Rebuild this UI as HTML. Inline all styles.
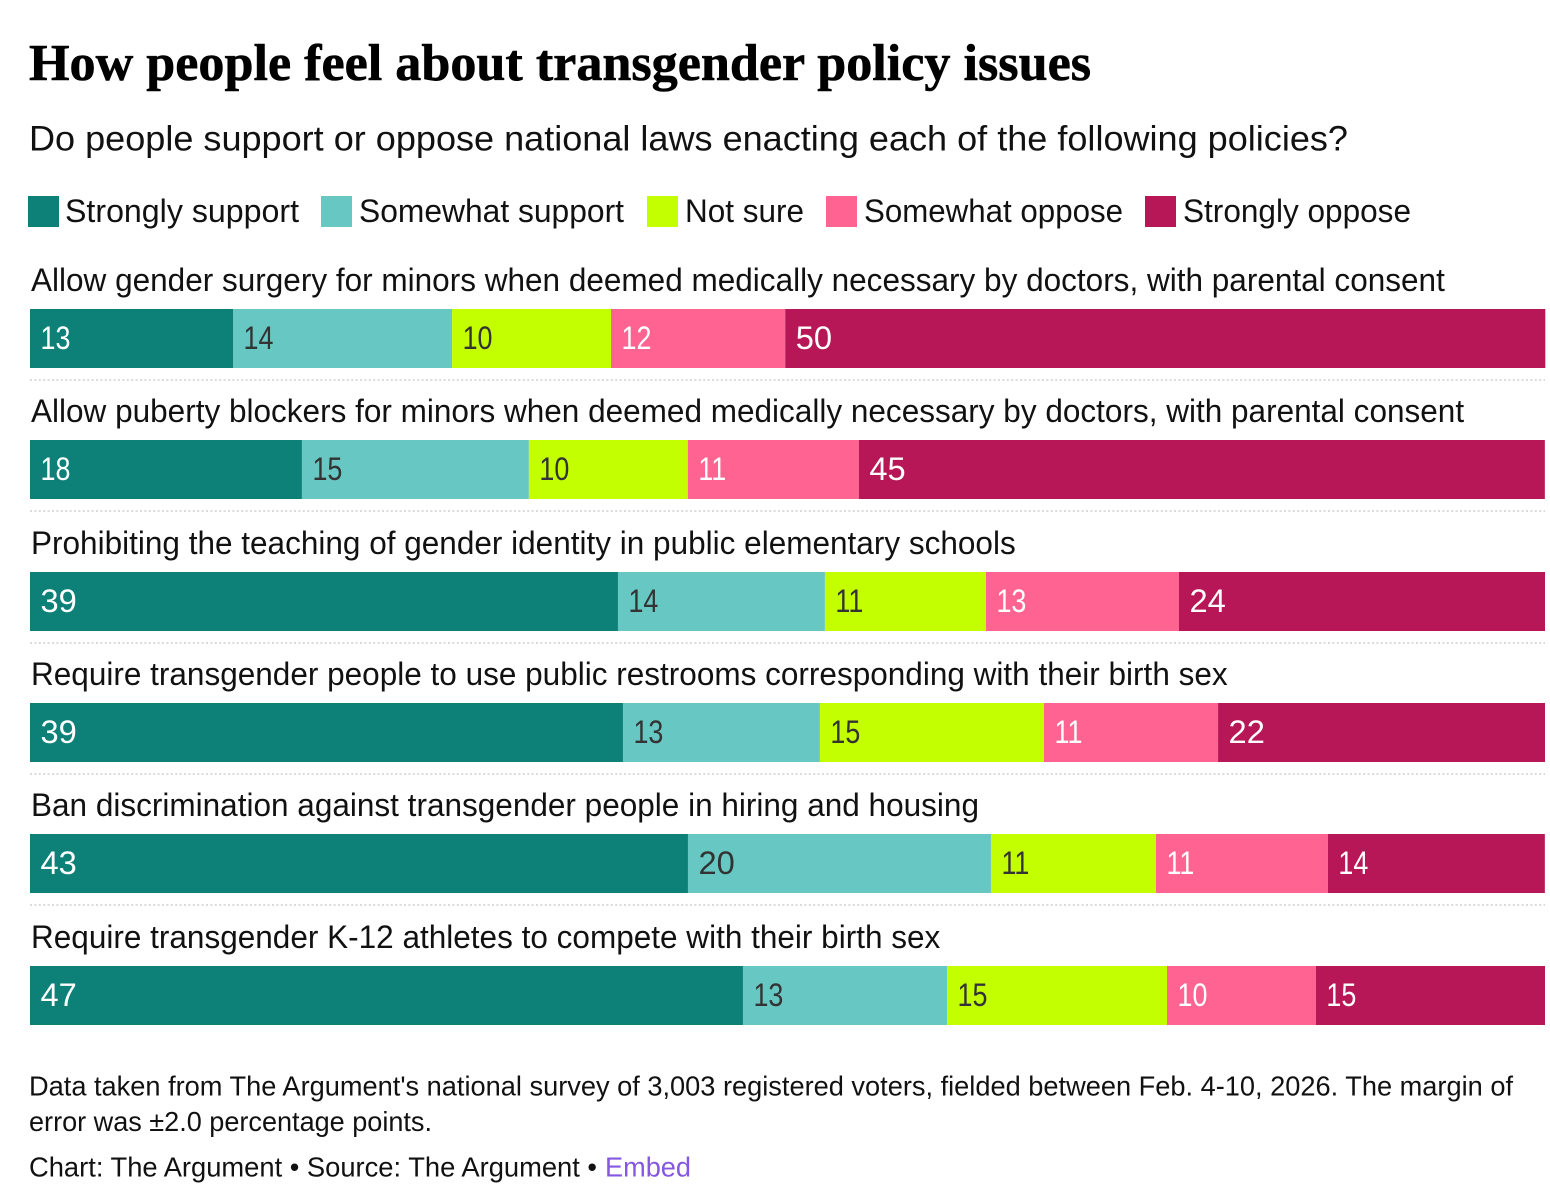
<!DOCTYPE html>
<html lang="en">
<head>
<meta charset="utf-8">
<title>How people feel about transgender policy issues</title>
<style>
  html, body { margin: 0; padding: 0; background: #fff; }
  svg { display: block; font-family: "Liberation Sans", sans-serif; }
  .legend-label { font-size: 32px; fill: #111; }
  .row-label { font-size: 32px; fill: #111; }
  .value-label { font-size: 32px; }
  .foot { font-size: 28px; fill: #111; }
</style>
</head>
<body>
<svg id="chart" width="1550" height="1188" viewBox="0 0 1550 1188" xmlns="http://www.w3.org/2000/svg">
  <text x="29" y="80" textLength="1062" lengthAdjust="spacingAndGlyphs" style="font-family:'Liberation Serif',serif;font-weight:700;font-size:52px;fill:#000;stroke:#000;stroke-width:0.6px">How people feel about transgender policy issues</text>
  <text x="29" y="150.5" textLength="1319" lengthAdjust="spacingAndGlyphs" style="font-size:35px;fill:#111">Do people support or oppose national laws enacting each of the following policies?</text>

  <g>
    <rect x="28" y="196" width="31" height="31" fill="#0d8078"/>
    <text class="legend-label" x="65" y="222" textLength="234" lengthAdjust="spacingAndGlyphs">Strongly support</text>
    <rect x="321" y="196" width="31" height="31" fill="#67c7c2"/>
    <text class="legend-label" x="359" y="222" textLength="265" lengthAdjust="spacingAndGlyphs">Somewhat support</text>
    <rect x="647" y="196" width="31" height="31" fill="#c4ff00"/>
    <text class="legend-label" x="685" y="222" textLength="119" lengthAdjust="spacingAndGlyphs">Not sure</text>
    <rect x="826" y="196" width="31" height="31" fill="#ff6391"/>
    <text class="legend-label" x="864" y="222" textLength="259" lengthAdjust="spacingAndGlyphs">Somewhat oppose</text>
    <rect x="1145" y="196" width="31" height="31" fill="#b71756"/>
    <text class="legend-label" x="1183" y="222" textLength="228" lengthAdjust="spacingAndGlyphs">Strongly oppose</text>
  </g>

  <g id="rows"></g>

  <g>
    <text class="foot" x="29" y="1095.5" textLength="1484" lengthAdjust="spacingAndGlyphs">Data taken from The Argument's national survey of 3,003 registered voters, fielded between Feb. 4-10, 2026. The margin of</text>
    <text class="foot" x="29" y="1131" textLength="403" lengthAdjust="spacingAndGlyphs">error was ±2.0 percentage points.</text>
    <text class="foot" x="29" y="1176.5" textLength="568" lengthAdjust="spacingAndGlyphs">Chart: The Argument • Source: The Argument •</text>
    <text class="foot" x="605" y="1176.5" textLength="86" lengthAdjust="spacingAndGlyphs" style="fill:#8458e0;cursor:pointer">Embed</text>
  </g>
</svg>

<script>
const categories = [
  "Allow gender surgery for minors when deemed medically necessary by doctors, with parental consent",
  "Allow puberty blockers for minors when deemed medically necessary by doctors, with parental consent",
  "Prohibiting the teaching of gender identity in public elementary schools",
  "Require transgender people to use public restrooms corresponding with their birth sex",
  "Ban discrimination against transgender people in hiring and housing",
  "Require transgender K-12 athletes to compete with their birth sex"
];
const seriesNames = ["strongly-support", "somewhat-support", "not-sure", "somewhat-oppose", "strongly-oppose"];
const stronglySupport = [13.4, 17.95, 38.81, 39.14, 43.43, 47.06];
const somewhatSupport = [14.46, 14.98, 13.66, 13.0, 20.0, 13.47];
const notSure = [10.49, 10.49, 10.63, 14.79, 10.89, 14.52];
const somewhatOppose = [11.5, 11.29, 12.74, 11.49, 11.35, 9.83];
const stronglyOppose = [50.17, 45.28, 24.16, 21.58, 14.32, 15.12];

const allSeries = [stronglySupport, somewhatSupport, notSure, somewhatOppose, stronglyOppose];
const seriesFill = ["#0d8078", "#67c7c2", "#c4ff00", "#ff6391", "#b71756"];
const seriesText = ["#fff", "#333", "#333", "#fff", "#fff"];

const NS = "http://www.w3.org/2000/svg";
const rowsGroup = document.getElementById("rows");
const xScale = function (v) { return 30 + v * 15.15; };
const rowTop = function (i) { return Math.round(309 + i * 131.3); };
const BAR_HEIGHT = 59;
const LABEL_SQUASH = 0.985;

categories.forEach(function (category, i) {
  const top = rowTop(i);

  const label = document.createElementNS(NS, "text");
  
  
  label.setAttribute("class", "row-label");
  label.setAttribute("x", 31);
  label.setAttribute("y", top - 18);
  label.textContent = category;
  rowsGroup.appendChild(label);
  label.setAttribute("textLength", label.getComputedTextLength() * LABEL_SQUASH);
  label.setAttribute("lengthAdjust", "spacingAndGlyphs");

  let cumulative = 0;
  allSeries.forEach(function (values, s) {
    const x0 = xScale(cumulative);
    const x1 = xScale(cumulative + values[i]);
    cumulative += values[i];

    const seg = document.createElementNS(NS, "rect");
    
    
    seg.setAttribute("x", x0);
    seg.setAttribute("y", top);
    seg.setAttribute("width", x1 - x0);
    seg.setAttribute("height", BAR_HEIGHT);
    seg.setAttribute("fill", seriesFill[s]);
    rowsGroup.appendChild(seg);

    const printed = String(Math.round(values[i]));
    const val = document.createElementNS(NS, "text");
    
    
    val.setAttribute("class", "value-label");
    val.setAttribute("x", x0 + 10.5);
    val.setAttribute("y", top + 40);
    val.setAttribute("fill", seriesText[s]);
    val.textContent = printed;
    rowsGroup.appendChild(val);
    const squash = printed.indexOf("1") >= 0 ? 0.84 : 1.02;
    val.setAttribute("textLength", val.getComputedTextLength() * squash);
    val.setAttribute("lengthAdjust", "spacingAndGlyphs");
  });

  if (i < categories.length - 1) {
    const rule = document.createElementNS(NS, "line");
    
    
    rule.setAttribute("x1", 30);
    rule.setAttribute("x2", 1545);
    rule.setAttribute("y1", top + 71);
    rule.setAttribute("y2", top + 71);
    rule.setAttribute("stroke", "#cfcfcf");
    rule.setAttribute("stroke-width", 1.6);
    rule.setAttribute("stroke-dasharray", "2 2.4");
    rowsGroup.appendChild(rule);
  }
});
</script>
</body>
</html>
